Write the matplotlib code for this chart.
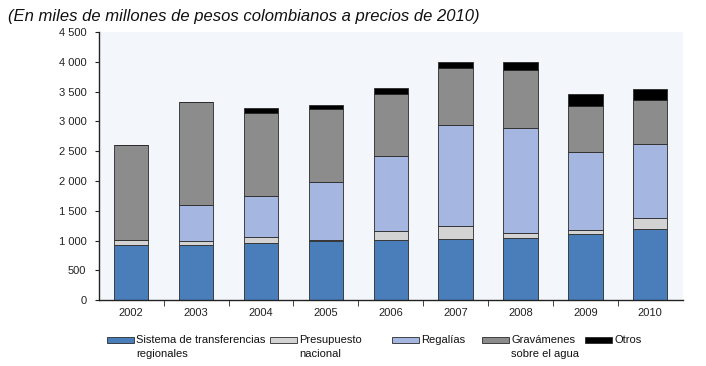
import matplotlib
matplotlib.use("Agg")
import matplotlib.pyplot as plt
import matplotlib.patches as mpatches
from matplotlib.legend_handler import HandlerPatch
import numpy as np
from matplotlib.ticker import FuncFormatter, FixedLocator

plt.rcParams['font.family'] = ['Liberation Sans', 'DejaVu Sans']

years = ["2002", "2003", "2004", "2005", "2006", "2007", "2008", "2009", "2010"]
sistema = [930, 933, 956, 995, 1012, 1034, 1040, 1107, 1191]
presupuesto = [85, 62, 95, 22, 156, 213, 89, 72, 184]
regalias = [0, 598, 704, 968, 1258, 1688, 1767, 1303, 1247]
gravamenes = [1594, 1733, 1387, 1218, 1034, 967, 972, 771, 732]
otros = [0, 0, 78, 78, 95, 95, 134, 213, 184]

labels = ["Sistema de transferencias\nregionales", "Presupuesto\nnacional", "Regalías",
          "Gravámenes\nsobre el agua", "Otros"]
values = [sistema, presupuesto, regalias, gravamenes, otros]
colors = ["#4a7ebb", "#d3d3d3", "#a5b6e0", "#8c8c8c", "#000000"]

fig = plt.figure(figsize=(7.06, 3.66), dpi=100)
ax = fig.add_axes([0.140, 0.180, 0.827, 0.7326])
ax.set_facecolor("#f3f7fc")

x = np.arange(len(years))
bottom = np.zeros(len(years))
for label, vals, col in zip(labels, values, colors):
    v = np.array(vals, dtype=float)
    ax.bar(x, v, bottom=bottom, width=0.53, color=col, edgecolor="#2a2a2a",
           linewidth=0.6, label=label)
    bottom += v

ax.set_xlim(-0.5, len(years) - 0.5)
ax.set_ylim(0, 4500)
ax.set_yticks(np.arange(0, 4501, 500))
ax.yaxis.set_major_formatter(FuncFormatter(lambda v, p: f"{int(v):,}".replace(",", " ")))
ax.set_xticks(x)
ax.set_xticklabels(years)
ax.xaxis.set_minor_locator(FixedLocator(np.arange(0.5, len(years) - 0.5, 1)))
ax.tick_params(axis="x", which="major", length=0, pad=6, labelsize=8, colors="#222222")
ax.tick_params(axis="x", which="minor", length=4, direction="out", color="#222222")
ax.tick_params(axis="y", length=3, direction="out", labelsize=8, colors="#222222", pad=6)
for s in ["top", "right"]:
    ax.spines[s].set_visible(False)
for s in ["left", "bottom"]:
    ax.spines[s].set_color("#222222")
    ax.spines[s].set_linewidth(1.0)

fig.text(0.011, 0.955, "(En miles de millones de pesos colombianos a precios de 2010)",
         fontsize=12, style="italic", color="#111111", va="center", ha="left")


def make_patch_func(dy):
    def f(legend, orig_handle, xdescent, ydescent, width, height, fontsize):
        h = height * 0.65
        return mpatches.Rectangle((-xdescent, -ydescent + (height - h) / 2 + dy), width, h)
    return f


# legend entries: left pixel position of each handle
legend_x = [107, 270, 392, 482, 585]
W, H = 706.0, 366.0
for lab, col, px in zip(labels, colors, legend_x):
    patch = mpatches.Patch(facecolor=col, edgecolor="#2a2a2a", linewidth=0.6)
    two = "\n" in lab
    dy = 5.2 if two else 0.0
    leg = fig.legend(handles=[patch], labels=[lab], loc="upper left",
                     bbox_to_anchor=(px / W, 1 - 335 / H), frameon=False, fontsize=8,
                     handlelength=2.45, handleheight=0.9, handletextpad=0.2,
                     borderaxespad=0, borderpad=0,
                     handler_map={mpatches.Patch: HandlerPatch(patch_func=make_patch_func(dy))})
    for t in leg.get_texts():
        t.set_linespacing(1.45)
        t.set_color("#111111")

fig.savefig("out.png", dpi=100)
